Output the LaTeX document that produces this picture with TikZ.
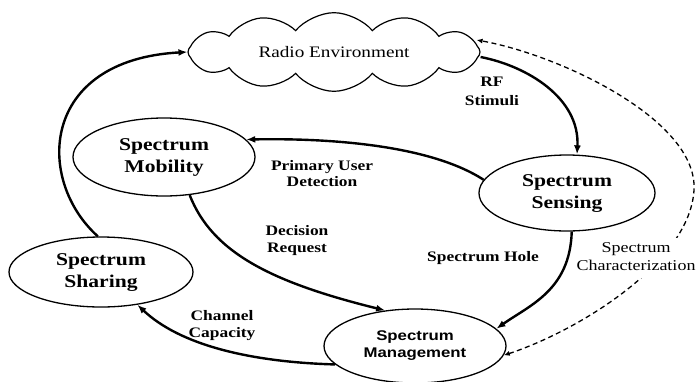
\documentclass[tikz,border=0pt]{standalone}
\usepackage{fontspec}
\setmainfont{Liberation Serif}
\newfontfamily\arialfam{Liberation Sans}
\usepackage{graphicx}
\usetikzlibrary{shapes.geometric,shapes.symbols,arrows.meta}
\newcommand{\hstretch}[1]{\scalebox{1.2}[1]{\begin{tabular}{@{}c@{}}#1\end{tabular}}}
\begin{document}
\begin{tikzpicture}[x=1pt,y=-1pt,
  state/.style={draw, ellipse, line width=1.3pt, inner sep=0pt, font=\fontsize{18}{22}\selectfont\bfseries},
  flow/.style={line width=2.4pt, -{Latex[length=9pt,width=7pt]}},
  dashline/.style={line width=1.3pt, dash pattern=on 5pt off 3.5pt, {Latex[length=6pt,width=5pt]}-{Latex[length=6pt,width=5pt]}},
  lbl/.style={inner sep=0pt, font=\fontsize{14.5}{17}\selectfont\bfseries}
]
\useasboundingbox (0,0) rectangle (699,381);

\node[cloud, draw, line width=1.2pt, cloud puffs=12, cloud puff arc=100, aspect=3.9,
      minimum width=292pt, minimum height=75pt, inner sep=0pt,
      font=\fontsize{16}{19}\selectfont] (cld) at (334,52) {\scalebox{1.2}[1]{Radio Environment}};

\node[state, minimum width=182pt, minimum height=78pt] (mob) at (164,157) {\hstretch{Spectrum\\Mobility}};
\node[state, minimum width=176pt, minimum height=76pt] (sen) at (567,193) {\hstretch{Spectrum\\Sensing}};
\node[state, minimum width=184pt, minimum height=70pt] (sha) at (101,272) {\hstretch{Spectrum\\Sharing}};
\node[state, minimum width=182pt, minimum height=74pt, font=\arialfam\fontsize{14}{17}\selectfont\bfseries] (man) at (415,346) {\hstretch{Spectrum\\Management}};

\draw[flow] ([yshift=-5pt]cld.east) .. controls (527,66) and (580,98) .. ([xshift=10pt]sen.north);
\draw[flow] (sen.171) .. controls (430,145) and (330,138) .. (mob.12);
\draw[flow] (sen.-83) .. controls (570,290) and (530,305) .. (man.12);
\draw[flow] (mob.-56) .. controls (212,252) and (270,282) .. (man.130);
\draw[flow] (man.193) .. controls (250,362) and (180,345) .. (sha.-42);
\draw[flow] (sha.95) .. controls (35,180) and (40,60) .. (cld.west);

\draw[dashline] (man.-6) .. controls (580,330) and (690,262) .. (694,190)
  .. controls (698,120) and (560,55) .. ([xshift=-4pt,yshift=12pt]cld.east);

\node[lbl, font=\fontsize{14.5}{19}\selectfont\bfseries] (lrf) at (492,92) {\hstretch{RF\\Stimuli}};
\node[lbl, font=\fontsize{14.5}{16}\selectfont\bfseries] (lpu) at (322,175) {\hstretch{Primary User\\Detection}};
\node[lbl] (ldr) at (297,241) {\hstretch{Decision\\Request}};
\node[lbl] (lsh) at (483,258) {\hstretch{Spectrum Hole}};
\node[lbl] (lcc) at (222,326) {\hstretch{Channel\\Capacity}};
\node[lbl, fill=white, inner sep=2pt, font=\fontsize{15}{18}\selectfont] (lsc) at (636,258) {\hstretch{Spectrum\\Characterization}};
\end{tikzpicture}
\end{document}
